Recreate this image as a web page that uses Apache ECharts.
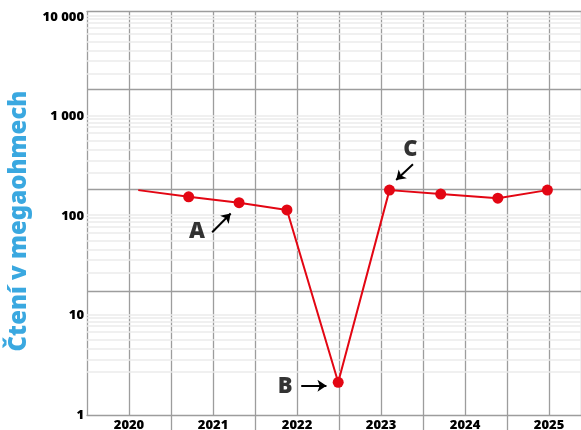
<!DOCTYPE html>
<html>
<head>
<meta charset="utf-8">
<script src="https://cdn.jsdelivr.net/npm/echarts@6/dist/echarts.min.js"></script>
<style>
  html, body { margin: 0; padding: 0; background: #fff; }
  #chart { width: 581px; height: 430px; }
</style>
</head>
<body>
<div id="chart"></div>
<script>
var chart = echarts.init(document.getElementById('chart'));

// readings (x in years, y in megaohms)
var years = [2020.11, 2020.71, 2021.31, 2021.88, 2022.49, 2023.10, 2023.71, 2024.39, 2024.98];
var readings = [182, 156, 136, 115, 2.13, 182, 166, 151, 182];
var yearLabels = [2020, 2021, 2022, 2023, 2024, 2025];

// background reference lines
var decades = [1, 10, 100, 1000];
var lightSteps = [10.2, 9.5, 8.7, 7.8, 6.8, 5.7, 4.6, 3.6, 2.7];
var darkLines = [17.6, 187, 1890];

// annotations: letter position, arrow start, arrow tip
var notes = ['A', 'B', 'C'];
var notePos = [[2020.81, 69], [2021.86, 1.92], [2023.35, 461]];
var arrowFrom = [[2020.99, 68.6], [2022.05, 1.97], [2023.38, 331]];
var arrowTo = [[2021.21, 106], [2022.35, 1.97], [2023.18, 230]];

var font = 'Noto Sans';
var gridGray = '#9d9d9d';

var lightData = [];
decades.forEach(function(d) {
  lightSteps.forEach(function(s) { lightData.push({yAxis: d * s}); });
});

var halfYears = yearLabels.slice(0, -1).map(function(y) { return y + 0.5; });

var xBase = {type: 'value', min: 2019.5, max: 2025.38, interval: 0.5};

var option = {
  animation: false,
  grid: {left: 87, right: 0, top: 11, bottom: 15, outerBoundsMode: 'none', containLabel: false},
  xAxis: [Object.assign({}, xBase, {
    axisLine: {show: true, lineStyle: {color: gridGray, width: 1.3}},
    axisTick: {show: false},
    axisLabel: {
      customValues: yearLabels,
      margin: 4,
      color: '#000',
      fontFamily: font,
      fontWeight: 900,
      fontSize: 13,
      formatter: function(v) { return String(Math.round(v)); }
    },
    splitLine: {show: true, lineStyle: {color: gridGray, width: 1.3}}
  }), Object.assign({}, xBase, {
    position: 'top',
    axisLine: {show: true, lineStyle: {color: gridGray, width: 1.3}},
    axisTick: {show: false},
    axisLabel: {show: false},
    splitLine: {show: false}
  }), Object.assign({}, xBase, {
    position: 'bottom',
    offset: 0,
    axisLine: {show: false},
    axisTick: {show: true, length: 15, customValues: halfYears, lineStyle: {color: gridGray, width: 1.3}},
    axisLabel: {show: false},
    splitLine: {show: false}
  })],
  yAxis: {
    type: 'log',
    logBase: 10,
    min: 1,
    max: 11490,
    name: 'Čtení v megaohmech',
    nameLocation: 'middle',
    nameGap: 55,
    nameTextStyle: {
      color: '#3aa8e0',
      fontFamily: font,
      fontWeight: 900,
      fontSize: 24,
      padding: [0, 16, 0, 0]
    },
    axisLine: {show: false},
    axisTick: {show: false},
    splitLine: {show: false},
    axisLabel: {
      margin: 3,
      color: '#000',
      fontFamily: font,
      fontWeight: 900,
      fontSize: 13,
      formatter: function(v) {
        var l = Math.log10(v);
        if (Math.abs(l - Math.round(l)) > 1e-6) return '';
        var n = Math.round(v);
        return n >= 1000 ? String(n).replace(/\B(?=(\d{3})+(?!\d))/g, ' ') : String(n);
      }
    }
  },
  series: [{
    type: 'line',
    data: [],
    z: 1,
    silent: true,
    markLine: {
      silent: true,
      symbol: 'none',
      label: {show: false},
      lineStyle: {color: '#ebebeb', width: 1.5, type: 'solid'},
      data: lightData
    }
  }, {
    type: 'line',
    data: [],
    z: 1,
    silent: true,
    markLine: {
      silent: true,
      symbol: 'none',
      label: {show: false},
      lineStyle: {color: gridGray, width: 1.3, type: 'solid'},
      data: darkLines.map(function(v) { return {yAxis: v}; })
    }
  }, {
    type: 'line',
    z: 5,
    symbol: 'circle',
    symbolSize: 11,
    lineStyle: {color: '#e30613', width: 2},
    itemStyle: {color: '#e30613'},
    data: years.map(function(x, i) {
      var p = {value: [x, readings[i]]};
      if (i === 0) p.symbol = 'none';
      return p;
    })
  }, {
    type: 'scatter',
    z: 6,
    symbolSize: 1,
    itemStyle: {color: 'rgba(0,0,0,0)'},
    label: {
      show: true,
      position: 'inside',
      color: '#000',
      textBorderWidth: 0,
      fontFamily: font,
      fontWeight: 900,
      fontSize: 22,
      formatter: function(p) { return notes[p.dataIndex]; }
    },
    data: notePos,
    markLine: {
      silent: true,
      symbol: ['none', 'arrow'],
      symbolSize: 9,
      label: {show: false},
      lineStyle: {color: '#000', width: 2, type: 'solid'},
      data: arrowFrom.map(function(a, i) {
        return [{coord: a}, {coord: arrowTo[i]}];
      })
    }
  }]
};
chart.setOption(option);
</script>
</body>
</html>
